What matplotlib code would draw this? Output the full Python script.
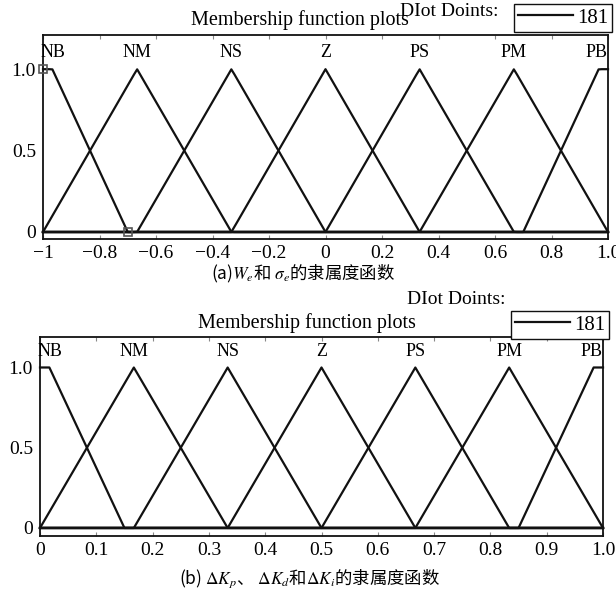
import numpy as np
import matplotlib
matplotlib.use("Agg")
import matplotlib.pyplot as plt
from matplotlib.lines import Line2D

plt.rcParams['font.family'] = ['Liberation Serif', 'Noto Sans CJK SC', 'DejaVu Sans']
plt.rcParams['mathtext.fontset'] = 'stix'

mf_names = ['NB', 'NM', 'NS', 'Z', 'PS', 'PM', 'PB']
n_points = 181

# (a) trapezoid / triangle params [a, b, c, d]
range_a = [-1.0, 1.0]
params_a = [[-1.3, -1.0, -0.967, -0.7],
            [-1.0, -0.667, -0.667, -0.333],
            [-0.667, -0.333, -0.333, 0.0],
            [-0.333, 0.0, 0.0, 0.333],
            [0.0, 0.333, 0.333, 0.667],
            [0.333, 0.667, 0.667, 1.0],
            [0.7, 0.967, 1.0, 1.3]]
peaks_a = [-1.0, -0.667, -0.333, 0.0, 0.333, 0.667, 1.0]
xticks_a = [-1, -0.8, -0.6, -0.4, -0.2, 0, 0.2, 0.4, 0.6, 0.8, 1.0]
xlabels_a = ['\u22121', '\u22120.8', '\u22120.6', '\u22120.4', '\u22120.2', '0',
             '0.2', '0.4', '0.6', '0.8', '1.0']
sel_x = [-1.0, -0.7]   # selected MF vertices (squares)
sel_y = [1.0, 0.0]

# (b)
range_b = [0.0, 1.0]
params_b = [[-0.15, 0.0, 0.0167, 0.15],
            [0.0, 0.1667, 0.1667, 0.3333],
            [0.1667, 0.3333, 0.3333, 0.5],
            [0.3333, 0.5, 0.5, 0.6667],
            [0.5, 0.6667, 0.6667, 0.8333],
            [0.6667, 0.8333, 0.8333, 1.0],
            [0.85, 0.9833, 1.0, 1.15]]
peaks_b = [0.0, 0.1667, 0.3333, 0.5, 0.6667, 0.8333, 1.0]
xticks_b = [0, 0.1, 0.2, 0.3, 0.4, 0.5, 0.6, 0.7, 0.8, 0.9, 1.0]
xlabels_b = ['0', '0.1', '0.2', '0.3', '0.4', '0.5', '0.6', '0.7', '0.8', '0.9', '1.0']

yticks = [0, 0.5, 1.0]
ylabels = ['0', '0.5', '1.0']


def trapmf(x, a, b, c, d):
    left = (x - a) / (b - a) if b > a else np.ones_like(x)
    right = (d - x) / (d - c) if d > c else np.ones_like(x)
    return np.clip(np.minimum(np.minimum(left, right), 1.0), 0, 1)


def draw_mfs(ax, xr, params, peaks, xticks, xlabels, ylim):
    x = np.linspace(xr[0], xr[1], n_points)
    for p in params:
        ax.plot(x, trapmf(x, *p), color='#111111', lw=1.6, clip_on=False, zorder=3)
    span = xr[1] - xr[0]
    for name, pk in zip(mf_names, peaks):
        lx = min(max(pk, xr[0] + 0.018 * span), xr[1] - 0.02 * span)
        ax.text(lx, 1.1, name, ha='center', va='center', fontsize=13)
    ax.set_xlim(xr)
    ax.set_ylim(ylim)
    ax.set_xticks(xticks)
    ax.set_xticklabels(xlabels, fontsize=14)
    ax.set_yticks(yticks)
    ax.set_yticklabels(ylabels, fontsize=14)
    ax.tick_params(axis='x', direction='in', length=3, color='#888888',
                   top=True, pad=4)
    ax.tick_params(axis='y', length=0, pad=5)
    for s in ax.spines.values():
        s.set_linewidth(1.3)
        s.set_color('#111111')


fig = plt.figure(figsize=(6.16, 5.92), dpi=100)

ax1 = fig.add_axes([43 / 616, 1 - 239 / 592, 565 / 616, 204 / 592])
draw_mfs(ax1, range_a, params_a, peaks_a, xticks_a, xlabels_a, (-0.043, 1.21))
ax1.plot(sel_x, sel_y, 's', ms=6, mfc='none', mec='#555555', mew=1.2,
         clip_on=False, zorder=4)

ax2 = fig.add_axes([40 / 616, 1 - 536 / 592, 563 / 616, 199 / 592])
draw_mfs(ax2, range_b, params_b, peaks_b, xticks_b, xlabels_b, (-0.05, 1.19))

# titles
fig.text(300 / 616, 1 - 20 / 592, 'Membership function plots', ha='center',
         va='center', fontsize=14.5)
fig.text(307 / 616, 1 - 323 / 592, 'Membership function plots', ha='center',
         va='center', fontsize=14.5)

# plot points boxes
fig.text(449 / 616, 1 - 11 / 592, 'DIot Doints:', ha='center', va='center', fontsize=14)
fig.text(456 / 616, 1 - 299 / 592, 'DIot Doints:', ha='center', va='center', fontsize=14)
h = [Line2D([], [], color='#111111', lw=1.6)]
for (bx, by) in [(612 / 616, 1 - 4 / 592), (609 / 616, 1 - 311 / 592)]:
    fig.legend(handles=h, labels=[str(n_points)], loc='upper right',
               bbox_to_anchor=(bx, by), fontsize=15, handlelength=2.6,
               handletextpad=0.2, borderpad=0.2, borderaxespad=0,
               fancybox=False, edgecolor='#111111', framealpha=1)

# captions
fig.text(303 / 616, 1 - 274 / 592, '(a)$W_e$和 $\\sigma_e$的隶属度函数',
         ha='center', va='center', fontsize=12.5, family=['Noto Sans CJK SC'])
fig.text(310 / 616, 1 - 579 / 592,
         '(b) $\\Delta K_p$、 $\\Delta K_d$和$\\Delta K_i$的隶属度函数',
         ha='center', va='center', fontsize=12.5, family=['Noto Sans CJK SC'])

fig.savefig('out.png', dpi=100)
